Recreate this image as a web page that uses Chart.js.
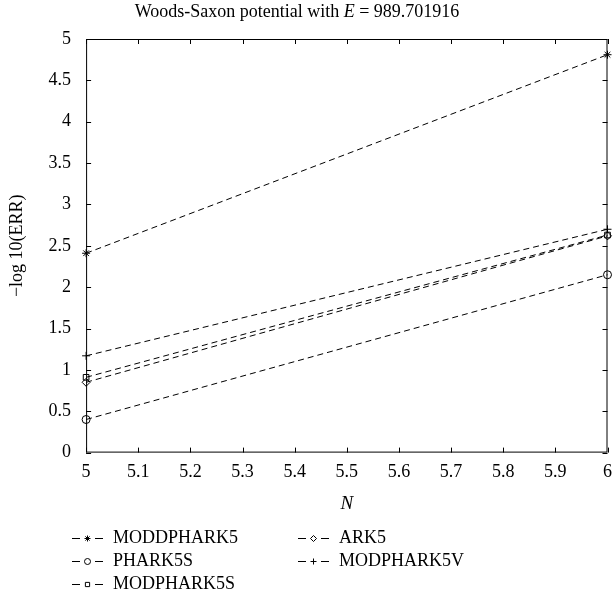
<!DOCTYPE html>
<html>
<head>
<meta charset="utf-8">
<script src="https://cdn.jsdelivr.net/npm/chart.js@4.4.1/dist/chart.umd.min.js"></script>
<style>
  html, body { margin: 0; padding: 0; background: #fff; }
  #wrap { width: 613px; height: 613px; }
</style>
</head>
<body>
<div id="wrap"><canvas id="chart" width="613" height="613"></canvas></div>
<script>
const stepsN = [5, 6];
const methods = ["MODDPHARK5", "PHARK5S", "MODPHARK5S", "ARK5", "MODPHARK5V"];
const moddphark5 = [2.41, 4.81];
const phark5s = [0.40, 2.15];
const modphark5s = [0.91, 2.63];
const ark5 = [0.85, 2.62];
const modphark5v = [1.17, 2.70];
const markers = ["star", "circle", "rect", "rectRot", "cross"];
const xTicks = [5, 5.1, 5.2, 5.3, 5.4, 5.5, 5.6, 5.7, 5.8, 5.9, 6];
const yTicks = [0, 0.5, 1, 1.5, 2, 2.5, 3, 3.5, 4, 4.5, 5];

const FONT = "'Liberation Serif', 'DejaVu Serif', serif";
const seriesValues = [moddphark5, phark5s, modphark5s, ark5, modphark5v];

const datasets = methods.map((name, i) => ({
    label: name,
    data: stepsN.map((n, j) => ({ x: n, y: seriesValues[i][j] })),
    borderColor: "#000",
    backgroundColor: "rgba(0,0,0,0)",
    borderWidth: 1,
    borderDash: [6, 4],
    pointStyle: markers[i],
    pointRadius: 4,
    pointBorderWidth: 1,
    pointBorderColor: "#000",
    pointBackgroundColor: markers[i] === "star" ? "#000" : "rgba(0,0,0,0)",
    tension: 0,
    clip: false
}));

const fmt = v => String(Math.round(v * 10) / 10);

// frame with inward ticks on all four sides, title, and legend
const framePlugin = {
    id: "frame",
    afterDraw(chart) {
        const ctx = chart.ctx;
        const a = chart.chartArea;
        const xs = chart.scales.x, ys = chart.scales.y;
        ctx.save();
        ctx.strokeStyle = "#000";
        ctx.lineWidth = 1;
        ctx.setLineDash([]);
        ctx.strokeRect(a.left + 0.5, a.top + 0.5, a.right - a.left - 1, a.bottom - a.top - 1);
        const tl = 5;
        ctx.beginPath();
        xTicks.forEach(v => {
            const px = Math.round(xs.getPixelForValue(v)) + 0.5;
            ctx.moveTo(px, a.bottom); ctx.lineTo(px, a.bottom - tl);
            ctx.moveTo(px, a.top); ctx.lineTo(px, a.top + tl);
        });
        yTicks.forEach(v => {
            const py = Math.round(ys.getPixelForValue(v)) + 0.5;
            ctx.moveTo(a.left, py); ctx.lineTo(a.left + tl, py);
            ctx.moveTo(a.right, py); ctx.lineTo(a.right - tl, py);
        });
        ctx.stroke();

        // title with italic E
        ctx.fillStyle = "#000";
        ctx.textBaseline = "middle";
        const t1 = "Woods-Saxon potential with ", t2 = "E", t3 = " = 989.701916";
        const f = "18px " + FONT, fi = "italic 18px " + FONT;
        ctx.font = f; const w1 = ctx.measureText(t1).width, w3 = ctx.measureText(t3).width;
        ctx.font = fi; const w2 = ctx.measureText(t2).width;
        let tx = 297 - (w1 + w2 + w3) / 2;
        const ty = 12;
        ctx.textAlign = "left";
        ctx.font = f; ctx.fillText(t1, tx, ty); tx += w1;
        ctx.font = fi; ctx.fillText(t2, tx, ty); tx += w2;
        ctx.font = f; ctx.fillText(t3, tx, ty);

        // legend, two columns
        const cols = [[0, 1, 2], [3, 4]];
        const colX = [72, 298];
        const rowY = [538, 561, 584];
        ctx.font = "18px " + FONT;
        cols.forEach((col, c) => {
            col.forEach((di, r) => {
                const ds = chart.data.datasets[di];
                const x0 = colX[c], y0 = rowY[r];
                ctx.setLineDash([]);
                ctx.beginPath();
                ctx.moveTo(x0, y0 + 0.5); ctx.lineTo(x0 + 8, y0 + 0.5);
                ctx.moveTo(x0 + 23, y0 + 0.5); ctx.lineTo(x0 + 31, y0 + 0.5);
                ctx.stroke();
                ctx.fillStyle = ds.pointBackgroundColor;
                Chart.helpers.drawPoint(ctx, {
                    pointStyle: ds.pointStyle, radius: 3, rotation: 0, borderWidth: 1
                }, x0 + 15.5, y0 + 0.5);
                ctx.fillStyle = "#000";
                ctx.fillText(ds.label, x0 + 41, y0);
            });
        });
        ctx.restore();
    }
};

new Chart(document.getElementById("chart"), {
    type: "line",
    data: { datasets: datasets },
    options: {
        responsive: false,
        animation: false,
        layout: { padding: { top: 39, right: 3, bottom: 98, left: 6 } },
        plugins: {
            legend: { display: false },
            title: { display: false },
            tooltip: { enabled: false }
        },
        scales: {
            x: {
                type: "linear",
                min: 5, max: 6,
                grid: { display: false },
                border: { display: false },
                ticks: {
                    stepSize: 0.1,
                    color: "#000",
                    font: { family: FONT, size: 18 },
                    padding: 1,
                    maxRotation: 0,
                    callback: fmt
                },
                afterBuildTicks: s => { s.ticks = xTicks.map(v => ({ value: v })); },
                title: {
                    display: true, text: "N", color: "#000",
                    font: { family: FONT, size: 19, style: "italic" },
                    padding: { top: 8, bottom: 0 }
                }
            },
            y: {
                min: 0, max: 5,
                grid: { display: false },
                border: { display: false },
                ticks: {
                    stepSize: 0.5,
                    color: "#000",
                    font: { family: FONT, size: 18 },
                    padding: 7,
                    callback: fmt
                },
                afterBuildTicks: s => { s.ticks = yTicks.map(v => ({ value: v })); },
                title: {
                    display: true, text: "\u2212log 10(ERR)", color: "#000",
                    font: { family: FONT, size: 18 },
                    padding: { top: 0, bottom: 14 }
                }
            }
        }
    },
    plugins: [framePlugin]
});
</script>
</body>
</html>
